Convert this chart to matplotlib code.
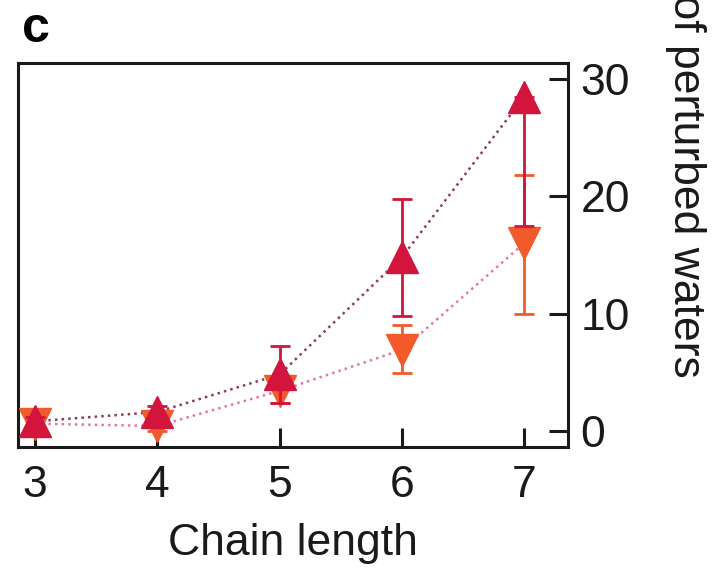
import matplotlib
matplotlib.use("Agg")
import matplotlib.pyplot as plt

plt.rcParams["font.family"] = ["Liberation Sans", "DejaVu Sans"]

# chain length on x, perturbed waters on y
chain_length = [3, 4, 5, 6, 7]

up_vals = [0.8, 1.6, 4.8, 14.8, 28.5]
up_err_lo = [0.4, 0.5, 2.4, 5.0, 11.0]
up_err_hi = [0.4, 0.5, 2.4, 5.0, 0.0]

down_vals = [0.6, 0.4, 3.4, 6.9, 16.0]
down_err_lo = [0.4, 0.4, 1.0, 2.0, 6.0]
down_err_hi = [0.4, 0.4, 1.0, 2.1, 5.8]

x_ticks = [3, 4, 5, 6, 7]
y_ticks = [0, 10, 20, 30]

RED = "#d3143c"
ORANGE = "#f25a2c"
INK = "#1a1a1a"

fig = plt.figure(figsize=(7.22, 5.71), dpi=100)
ax = fig.add_axes([0.025, 0.217, 0.762, 0.673])

# dotted connecting lines
ax.plot(chain_length, up_vals, linestyle=":", color="#8c3c64", linewidth=1.8, zorder=1)
ax.plot(chain_length, down_vals, linestyle=":", color="#e57a98", linewidth=1.8, zorder=1)

ax.errorbar(chain_length, down_vals, yerr=[down_err_lo, down_err_hi],
            fmt="v", color=ORANGE, markersize=23, ecolor=ORANGE,
            elinewidth=2, capsize=7.5, capthick=2, zorder=3)
ax.errorbar(chain_length, up_vals, yerr=[up_err_lo, up_err_hi],
            fmt="^", color=RED, markersize=23, ecolor=RED,
            elinewidth=2, capsize=7.5, capthick=2, zorder=4)

ax.set_xlim(2.86, 7.36)
ax.set_ylim(-1.4, 31.4)
ax.set_xticks(x_ticks)
ax.set_yticks(y_ticks)

ax.yaxis.tick_right()
ax.yaxis.set_label_position("right")
ax.tick_params(axis="both", direction="in", length=14, width=2.2,
               labelsize=32, colors=INK)
ax.tick_params(axis="x", pad=13)
ax.tick_params(axis="y", pad=9)
for spine in ax.spines.values():
    spine.set_linewidth(2.2)
    spine.set_color(INK)

ax.set_xlabel("Chain length", fontsize=32, labelpad=12, color=INK)
ax.set_ylabel("Number of perturbed waters", fontsize=32, rotation=270,
              color=INK, va="center")
ax.yaxis.set_label_coords(1.213, 0.902)

fig.text(0.03, 0.949, "c", fontsize=36, fontweight="bold", va="center", ha="left")

fig.savefig("out.png", dpi=100)
